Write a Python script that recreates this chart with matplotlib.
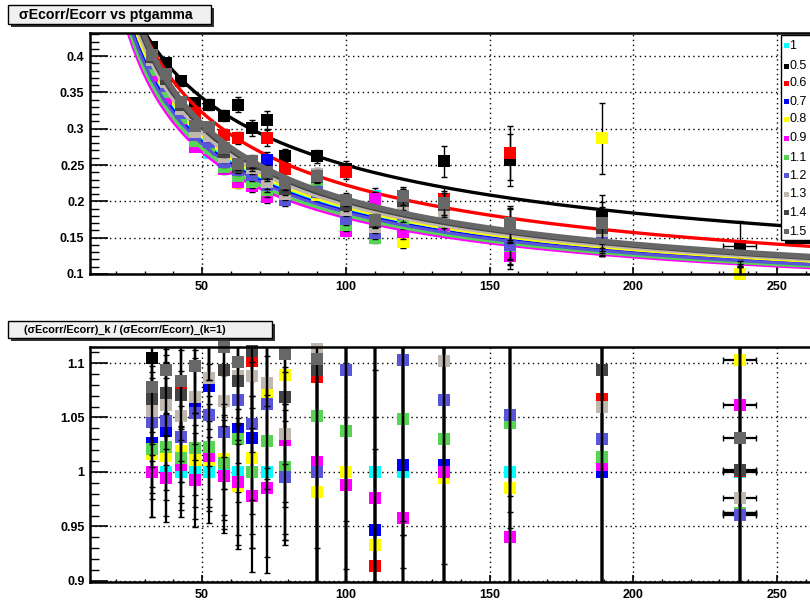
import numpy as np
import matplotlib
matplotlib.use("Agg")
import matplotlib.pyplot as plt
from matplotlib.patches import Rectangle
from matplotlib.ticker import MultipleLocator, FixedLocator

plt.rcParams['font.family'] = ['Liberation Sans', 'DejaVu Sans']

# ---------------- data ----------------
ptgamma = [32.5, 37.5, 42.5, 47.5, 52.5, 57.5, 62.5, 67.5, 72.5, 79, 90, 100, 110, 120, 134, 157, 189, 237]
ptgamma_err = [0, 0, 0, 0, 0, 0, 0, 0, 0, 0, 0, 0, 0, 0, 0, 0, 0, 5.7]

labels = ["1", "0.5", "0.6", "0.7", "0.8", "0.9", "1.1", "1.2", "1.3", "1.4", "1.5"]
colors = ["#00ffff", "#000000", "#ff0000", "#0000ff", "#ffff00", "#ff00ff",
          "#57d454", "#5955d9", "#c0b8ae", "#444444", "#676767"]

res_k1  = [0.373, 0.343, 0.311, 0.277, 0.267, 0.245, 0.228, 0.226, 0.209, 0.203, 0.213, 0.161, 0.208, 0.165, 0.167, 0.133, 0.150, 0.0911]
res_k05 = [0.412, 0.391, 0.365, 0.336, 0.333, 0.318, 0.333, 0.301, 0.312, 0.262, 0.262, 0.245, 0.175, 0.205, 0.255, 0.257, 0.178, 0.138]
res_k06 = [0.392, 0.366, 0.336, 0.322, 0.300, 0.292, 0.287, 0.249, 0.287, 0.245, 0.2315, 0.241, 0.190, 0.205, 0.203, 0.2665, 0.160, 0.0912]
res_k07 = [0.383, 0.356, 0.321, 0.294, 0.288, 0.254, 0.237, 0.233, 0.257, 0.203, 0.213, 0.161, 0.197, 0.166, 0.168, 0.140, 0.150, 0.0877]
res_k08 = [0.379, 0.348, 0.317, 0.280, 0.270, 0.248, 0.225, 0.229, 0.224, 0.221, 0.209, 0.161, 0.194, 0.144, 0.166, 0.131, 0.287, 0.1005]
res_k09 = [0.373, 0.341, 0.313, 0.275, 0.271, 0.244, 0.226, 0.221, 0.206, 0.209, 0.215, 0.159, 0.203, 0.158, 0.167, 0.125, 0.151, 0.0967]
res_k11 = [0.381, 0.351, 0.315, 0.283, 0.273, 0.247, 0.235, 0.226, 0.215, 0.204, 0.224, 0.167, 0.150, 0.173, 0.172, 0.139, 0.152, 0.0877]
res_k12 = [0.390, 0.359, 0.321, 0.292, 0.281, 0.254, 0.243, 0.236, 0.222, 0.202, 0.213, 0.176, 0.156, 0.182, 0.178, 0.140, 0.1545, 0.0875]
res_k13 = [0.394, 0.364, 0.327, 0.296, 0.290, 0.261, 0.248, 0.246, 0.226, 0.210, 0.237, 0.188, 0.165, 0.195, 0.184, 0.168, 0.159, 0.0889]
res_k14 = [0.398, 0.368, 0.333, 0.304, 0.302, 0.268, 0.247, 0.251, 0.238, 0.217, 0.233, 0.195, 0.172, 0.200, 0.195, 0.166, 0.164, 0.0913]
res_k15 = [0.402, 0.375, 0.337, 0.304, 0.302, 0.273, 0.251, 0.255, 0.240, 0.225, 0.235, 0.202, 0.174, 0.207, 0.198, 0.170, 0.170, 0.0939]

rel_err_top = [0.015, 0.015, 0.017, 0.02, 0.022, 0.025, 0.03, 0.035, 0.04, 0.04, 0.035, 0.045, 0.05, 0.06, 0.085, 0.14, 0.17, 0.25]
ratio_err   = [0.041, 0.040, 0.041, 0.043, 0.047, 0.052, 0.058, 0.070, 0.078, 0.062, 0.3, 0.3, 0.3, 0.3, 0.3, 0.3, 0.3, 0.3]

# fit parameters: y = a/sqrt(pt) + b/pt + c
fit_a = [1.122, 2.312, 1.802, 1.104, 1.134, 1.050, 1.068, 1.092, 1.152, 1.182, 1.200]
fit_b = [5.01, -0.33, 2.53, 4.93, 5.07, 4.69, 4.77, 4.88, 5.15, 5.28, 5.36]
fit_c = [0.0275, 0.0221, 0.017, 0.0270, 0.0278, 0.0257, 0.0262, 0.0268, 0.0282, 0.0290, 0.0294]
fit_lw = [2.2, 2.4, 2.4, 2.2, 2.2, 2.2, 2.2, 2.2, 2.2, 3.2, 4.0]

series = [res_k1, res_k05, res_k06, res_k07, res_k08, res_k09,
          res_k11, res_k12, res_k13, res_k14, res_k15]

# ---------------- figure ----------------
W, H = 810, 604
fig = plt.figure(figsize=(W / 100, H / 100), dpi=100)
fig.patch.set_facecolor('white')

def fx(px):
    return px / W

def fy(py):
    return 1 - py / H

ax1 = fig.add_axes([fx(90), fy(274), fx(722), 241 / H])
ax2 = fig.add_axes([fx(90), fy(582), fx(722), 235 / H])

xlim = (11.0, 262.2)
ylim1 = (0.1, 0.4317)
ylim2 = (0.899, 1.1147)

x = np.array(ptgamma, dtype=float)
xe = np.array(ptgamma_err, dtype=float)
ref = np.array(res_k1, dtype=float)
xs = np.linspace(12, 263, 600)
MS = 9.0

for i, (vals, col) in enumerate(zip(series, colors)):
    v = np.array(vals, dtype=float)
    z = 3 + 3 * i
    # top panel
    ax1.errorbar(x, v, yerr=v * np.array(rel_err_top), xerr=xe, fmt='none',
                 ecolor='black', elinewidth=1.0, capsize=2, capthick=1.0, zorder=z)
    inside = (v >= ylim1[0]) & (v <= ylim1[1])
    ax1.plot(x[inside], v[inside], ls='none', marker='s', ms=MS, mfc=col,
             mec=col, mew=0, zorder=z + 1, clip_on=False)
    yfit = fit_a[i] / np.sqrt(xs) + fit_b[i] / xs + fit_c[i]
    ax1.plot(xs, yfit, color=col, lw=fit_lw[i], zorder=z + 2, solid_capstyle='butt')
    # bottom panel (ratio to k=1)
    r = v / ref
    ax2.errorbar(x, r, yerr=np.array(ratio_err), xerr=xe, fmt='none',
                 ecolor='black', elinewidth=1.6, capsize=2, capthick=1.0, zorder=z)
    inside2 = (r >= ylim2[0]) & (r <= ylim2[1])
    ax2.plot(x[inside2], r[inside2], ls='none', marker='s', ms=MS, mfc=col,
             mec=col, mew=0, zorder=z + 1, clip_on=False)

def style(ax, ylim, yticks, ylabels):
    ax.set_xlim(*xlim)
    ax.set_ylim(*ylim)
    ax.xaxis.set_major_locator(FixedLocator([50, 100, 150, 200, 250]))
    ax.xaxis.set_minor_locator(MultipleLocator(10))
    ax.yaxis.set_major_locator(FixedLocator(yticks))
    ax.yaxis.set_minor_locator(MultipleLocator(0.01))
    ax.set_yticklabels(ylabels)
    ax.set_xticklabels(["50", "100", "150", "200", "250"])
    ax.tick_params(axis='x', which='major', direction='in', length=5, width=1.2,
                   labelsize=9, pad=5, top=False)
    ax.tick_params(axis='x', which='minor', direction='in', length=2.5, width=1.0, top=False)
    ax.tick_params(axis='y', which='major', direction='in', length=13, width=1.2,
                   labelsize=9, pad=4, right=False)
    ax.tick_params(axis='y', which='minor', direction='in', length=6.5, width=1.0, right=False)
    for lab in ax.get_xticklabels() + ax.get_yticklabels():
        lab.set_fontweight('bold')
    ax.grid(True, which='major', color='black', linestyle=(0, (1, 2.5)), linewidth=1.0)
    for s in ax.spines.values():
        s.set_linewidth(1.8)
        s.set_zorder(60)
    for gl in ax.get_xgridlines() + ax.get_ygridlines():
        gl.set_zorder(0.5)

style(ax1, ylim1, [0.1, 0.15, 0.2, 0.25, 0.3, 0.35, 0.4],
      ["0.1", "0.15", "0.2", "0.25", "0.3", "0.35", "0.4"])
style(ax2, ylim2, [0.9, 0.95, 1.0, 1.05, 1.1],
      ["0.9", "0.95", "1", "1.05", "1.1"])

# ---------------- title boxes ----------------
def title_box(x0, y0, x1, y1, text, size, tx):
    sh = Rectangle((fx(x0 + 3), fy(y1 + 3)), fx(x1 - x0), (y1 - y0) / H,
                   transform=fig.transFigure, facecolor='#333333', edgecolor='none', zorder=100)
    bx = Rectangle((fx(x0), fy(y1)), fx(x1 - x0), (y1 - y0) / H,
                   transform=fig.transFigure, facecolor='#f0f0f0', edgecolor='black',
                   linewidth=1.0, zorder=101)
    fig.add_artist(sh)
    fig.add_artist(bx)
    fig.text(fx(tx), fy((y0 + y1) / 2), text, fontsize=size, fontweight='bold',
             ha='left', va='center', zorder=102)

title_box(8, 5, 211, 24, "\u03c3Ecorr/Ecorr vs ptgamma", 10.2, 19)
title_box(8, 321, 272, 338, "(\u03c3Ecorr/Ecorr)_k / (\u03c3Ecorr/Ecorr)_(k=1)", 7.8, 24)

# ---------------- legend ----------------
lx0, ly0, lx1, ly1 = 781, 35, 830, 240
fig.add_artist(Rectangle((fx(lx0 + 4), fy(ly1 + 4)), fx(lx1 - lx0), (ly1 - ly0) / H,
                         transform=fig.transFigure, facecolor='black', edgecolor='none', zorder=110))
fig.add_artist(Rectangle((fx(lx0), fy(ly1)), fx(lx1 - lx0), (ly1 - ly0) / H,
                         transform=fig.transFigure, facecolor='white', edgecolor='black',
                         linewidth=1.0, zorder=111))
entry_y = [45.7, 66, 83.3, 101.7, 119.3, 138.3, 157.7, 175.7, 194, 212.7, 231.7]
for lab, col, ey in zip(labels, colors, entry_y):
    fig.add_artist(Rectangle((fx(783.5), fy(ey + 2.5)), fx(5), 5 / H,
                             transform=fig.transFigure, facecolor=col, edgecolor='none', zorder=112))
    fig.text(fx(789), fy(ey), lab, fontsize=9, ha='left', va='center', zorder=113)

fig.savefig("out.png", dpi=100)
